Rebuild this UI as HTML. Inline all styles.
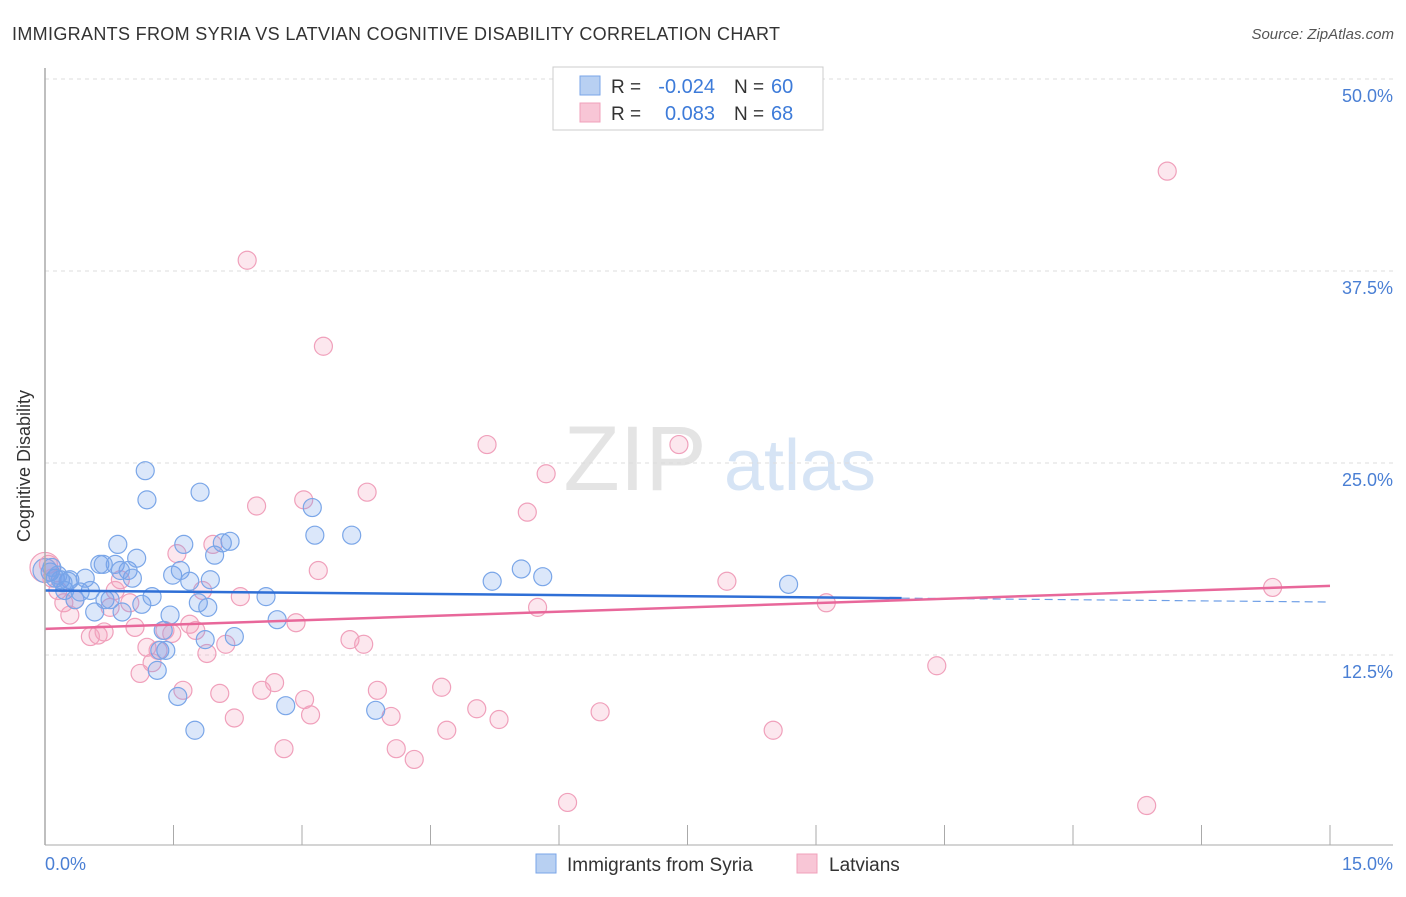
<!DOCTYPE html>
<html><head><meta charset="utf-8"><style>
body{margin:0;background:#fff;font-family:"Liberation Sans",sans-serif;}
svg text{font-family:"Liberation Sans",sans-serif;}
</style></head><body>
<svg id="c" width="1406" height="892" xmlns="http://www.w3.org/2000/svg">
<text x="12" y="40" font-size="18" fill="#333" textLength="768">IMMIGRANTS FROM SYRIA VS LATVIAN COGNITIVE DISABILITY CORRELATION CHART</text>
<text x="1394" y="39" font-size="15" fill="#555" font-style="italic" text-anchor="end">Source: ZipAtlas.com</text>
<g><text x="635" y="490" font-size="92" fill="#e4e4e4" font-family="Liberation Serif" text-anchor="middle">ZIP</text><text x="800" y="490" font-size="72" fill="#d6e4f5" text-anchor="middle">atlas</text></g>
<g id="grid"></g><g id="pts"></g><g id="lines"></g>
<line x1="45" y1="68" x2="45" y2="845" stroke="#aaa" stroke-width="1.5"/>
<line x1="45" y1="845" x2="1393" y2="845" stroke="#aaa" stroke-width="1"/>
<text x="20" y="456" font-size="18" fill="#333" transform="rotate(-90 30 456)" text-anchor="middle">Cognitive Disability</text>
<text x="45" y="870" font-size="18" fill="#4a7fd4">0.0%</text>
<text x="1393" y="870" font-size="18" fill="#4a7fd4" text-anchor="end">15.0%</text>
<g>
<rect x="553" y="67" width="270" height="63" fill="#fff" stroke="#ccc"/>
<rect x="580" y="76" width="20" height="19" fill="#b8d0f2" stroke="#7aa6e8"/>
<rect x="580" y="103" width="20" height="19" fill="#f8c6d6" stroke="#f0a0bb"/>
<text x="611" y="93" font-size="19" fill="#333">R =</text>
<text x="715" y="93" font-size="20" fill="#3d7bd9" text-anchor="end">-0.024</text>
<text x="734" y="93" font-size="19" fill="#333">N =</text>
<text x="771" y="93" font-size="20" fill="#3d7bd9">60</text>
<text x="611" y="120" font-size="19" fill="#333">R =</text>
<text x="715" y="120" font-size="20" fill="#3d7bd9" text-anchor="end">0.083</text>
<text x="734" y="120" font-size="19" fill="#333">N =</text>
<text x="771" y="120" font-size="20" fill="#3d7bd9">68</text>
</g>
<g>
<rect x="536" y="854" width="20" height="19" fill="#b8d0f2" stroke="#7aa6e8"/>
<text x="567" y="871" font-size="19" fill="#333">Immigrants from Syria</text>
<rect x="797" y="854" width="20" height="19" fill="#f8c6d6" stroke="#f0a0bb"/>
<text x="829" y="871" font-size="19" fill="#333">Latvians</text>
</g>
</svg>
<script>
const yTicks=[12.5,25,37.5,50];
const yTickLabels=["12.5%","25.0%","37.5%","50.0%"];
const xTicks=[0,1.5,3,4.5,6,7.5,9,10.5,12,13.5,15];
const syriaX=[0.06,0.12,0.18,0.29,0.23,0.35,0.47,0.53,0.58,0.64,0.70,0.76,0.82,0.85,0.90,0.97,1.02,1.07,1.13,1.17,1.19,1.25,1.34,1.38,1.41,1.46,1.49,1.58,1.62,1.69,1.75,1.81,1.79,1.87,1.93,1.90,1.98,2.07,2.16,2.21,2.58,2.71,2.81,3.12,3.15,3.58,3.86,5.22,5.56,5.81,8.68,1.31,1.55,0.68,0.88,0.41,0.27,0.08,0.15,0.21];
const syriaY=[17.9,17.5,17.4,17.4,16.7,16.1,17.5,16.7,15.3,18.4,16.1,16.1,18.4,19.7,15.3,18.0,17.5,18.8,15.8,24.5,22.6,16.3,12.8,14.1,12.8,15.1,17.7,18.0,19.7,17.3,7.6,23.1,15.9,13.5,17.4,15.6,19.0,19.8,19.9,13.7,16.3,14.8,9.2,22.1,20.3,20.3,8.9,17.3,18.1,17.6,17.1,11.5,9.8,18.4,18.0,16.6,17.3,18.2,17.7,17.2];
const latX=[0.04,0.08,0.15,0.22,0.29,0.35,0.53,0.62,0.69,0.76,0.82,0.88,0.99,1.05,1.11,1.19,1.25,1.32,1.40,1.48,1.54,1.61,1.69,1.76,1.84,1.89,1.96,2.04,2.11,2.21,2.28,2.36,2.47,2.53,2.68,2.79,2.93,3.02,3.03,3.10,3.19,3.25,3.56,3.72,3.76,3.88,4.04,4.10,4.31,4.63,4.69,5.04,5.16,5.30,5.63,5.75,5.85,6.10,6.48,7.40,7.96,8.50,9.12,10.41,12.86,13.10,14.33];
const latY=[18.4,17.5,16.7,15.9,15.1,16.1,13.7,13.8,14.0,15.6,16.7,17.4,15.9,14.3,11.3,13.0,12.0,12.8,14.1,13.9,19.1,10.2,14.5,14.1,16.7,12.6,19.7,10.0,13.2,8.4,16.3,38.2,22.2,10.2,10.7,6.4,14.6,22.6,9.6,8.6,18.0,32.6,13.5,13.2,23.1,10.2,8.5,6.4,5.7,10.4,7.6,9.0,26.2,8.3,21.8,15.6,24.3,2.9,8.8,26.2,17.3,7.6,15.9,11.8,2.7,44.0,16.9];
const syriaTrend=[16.7,16.2,15.95]; // at x=0,10,15
const latTrend=[14.2,17.0]; // at x=0,15
const NS="http://www.w3.org/2000/svg";
const sx=v=>45+v/15*1285, sy=v=>847-v*15.36;
function mk(t,a,p){const e=document.createElementNS(NS,t);for(const k in a)e.setAttribute(k,a[k]);p.appendChild(e);return e;}
const grid=document.getElementById('grid'),pts=document.getElementById('pts'),lines=document.getElementById('lines'),svg=document.getElementById('c');
yTicks.forEach((t,i)=>{
 const l=mk('line',{x1:45,x2:1393,y1:sy(t),y2:sy(t),stroke:'#ddd','stroke-dasharray':'4,4'},grid);
 
 
 const tx=mk('text',{x:1393,y:sy(t)+23,'font-size':18,fill:'#4a7fd4','text-anchor':'end'},svg);
 tx.textContent=yTickLabels[i];
 
 
});
xTicks.forEach(t=>{
 const l=mk('line',{x1:sx(t),x2:sx(t),y1:825,y2:845,stroke:'#aaa'},svg);
 
 
});
function dot(x,y,r,pink){
 const c=mk('circle',{cx:sx(x),cy:sy(y),r:r,fill:pink?'rgba(244,160,188,0.25)':'rgba(110,160,235,0.25)',stroke:pink?'#f0a0bb':'#7aa6e8','stroke-width':1.2},pts);
 
 
}
dot(0,18.2,15,true);dot(0,18.0,12,false);
latX.forEach((x,i)=>dot(x,latY[i],9,true));
syriaX.forEach((x,i)=>dot(x,syriaY[i],9,false));
let l=mk('line',{x1:sx(0),y1:sy(syriaTrend[0]),x2:sx(10),y2:sy(syriaTrend[1]),stroke:'#2f6fd6','stroke-width':2.5},lines);


l=mk('line',{x1:sx(10),y1:sy(syriaTrend[1]),x2:sx(15),y2:sy(syriaTrend[2]),stroke:'#6f9fe6','stroke-width':1.2,'stroke-dasharray':'8,5'},lines);


l=mk('line',{x1:sx(0),y1:sy(latTrend[0]),x2:sx(15),y2:sy(latTrend[1]),stroke:'#e8679a','stroke-width':2.5},lines);


</script>
</body></html>
